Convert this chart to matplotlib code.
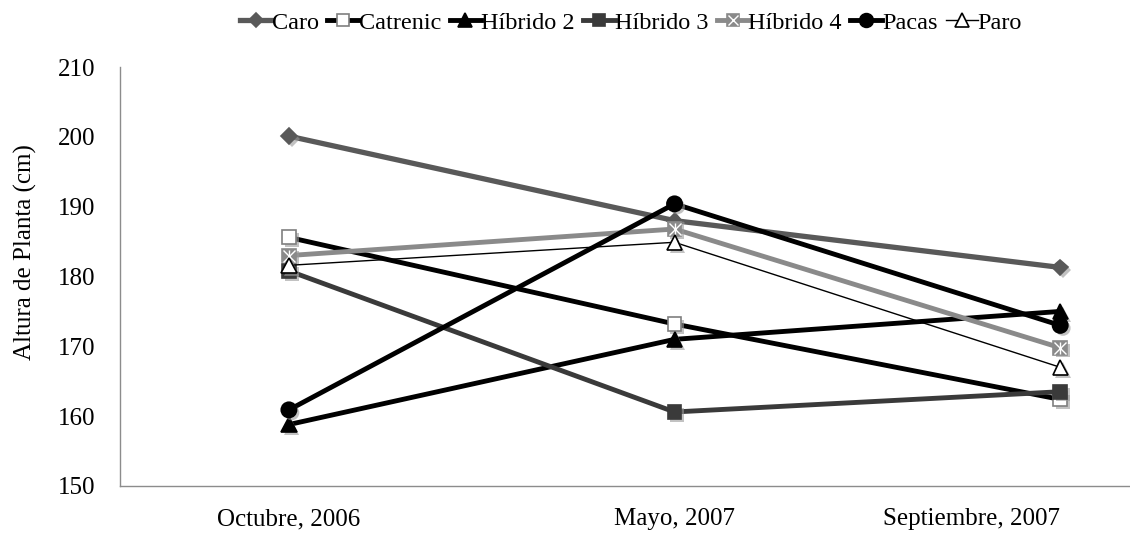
import matplotlib
matplotlib.use("Agg")
import matplotlib.pyplot as plt
import matplotlib.patheffects as pe

plt.rcParams['font.family'] = ['Liberation Serif', 'DejaVu Serif']

categories = ["Octubre, 2006", "Mayo, 2007", "Septiembre, 2007"]
series_names = ["Caro", "Catrenic", "Híbrido 2", "Híbrido 3", "Híbrido 4", "Pacas", "Paro"]
caro = [200.1, 188.0, 181.3]
catrenic = [185.6, 173.2, 162.4]
hibrido2 = [158.8, 171.0, 175.0]
hibrido3 = [180.8, 160.6, 163.5]
hibrido4 = [183.0, 186.8, 169.8]
pacas = [160.9, 190.4, 173.0]
paro = [181.6, 184.9, 167.0]
values = [caro, catrenic, hibrido2, hibrido3, hibrido4, pacas, paro]
yticks = [150, 160, 170, 180, 190, 200, 210]

styles = {
    "Caro": dict(color="#595959", lw=3.8, marker="D", ms=8, mfc="#595959", mec="#595959"),
    "Catrenic": dict(color="black", lw=3.5, marker="s", ms=10, mfc="white", mec="#7f7f7f"),
    "Híbrido 2": dict(color="black", lw=3.5, marker="^", ms=11, mfc="black", mec="black"),
    "Híbrido 3": dict(color="#3a3a3a", lw=3.5, marker="s", ms=10, mfc="#3a3a3a", mec="#3a3a3a"),
    "Híbrido 4": dict(color="#8a8a8a", lw=3.5, marker="s", ms=10, mfc="#8a8a8a", mec="#8a8a8a"),
    "Pacas": dict(color="black", lw=3.5, marker="o", ms=11, mfc="black", mec="black"),
    "Paro": dict(color="black", lw=1.0, marker="^", ms=11, mfc="white", mec="black"),
}

FS = 18

fig = plt.figure(figsize=(11.3, 5.4), dpi=100)
ax = fig.add_axes([120/1130, 54/540, 1010/1130, 419/540])
x = list(range(len(categories)))
shadow = [pe.SimplePatchShadow(offset=(2, -2), shadow_rgbFace="#9a9a9a", alpha=0.6), pe.Normal()]

handles = []
for name, vals in zip(series_names, values):
    st = styles[name]
    ax.plot(x, vals, color=st["color"], lw=st["lw"], solid_capstyle="butt")
    ax.plot(x, vals, ls="none", marker=st["marker"], ms=st["ms"], mfc=st["mfc"],
            mec=st["mec"], mew=1.2, path_effects=shadow)
    leg_line, = ax.plot([], [], color=st["color"], lw=st["lw"], marker=st["marker"],
                        ms=st["ms"] * 0.9, mfc=st["mfc"], mec=st["mec"], mew=1.2)
    if name == "Híbrido 4":
        ax.plot(x, vals, ls="none", marker="x", ms=st["ms"] * 0.85, mec="white", mew=1.0)
        ax.plot(x, vals, ls="none", marker="|", ms=st["ms"] * 0.85, mec="white", mew=1.0)
        leg_x, = ax.plot([], [], ls="none", marker="x", ms=st["ms"] * 0.75, mec="white", mew=1.0)
        handles.append((leg_line, leg_x))
    else:
        handles.append(leg_line)

ax.set_xlim(-0.438, 2.181)
ax.set_ylim(150, 210)
ax.set_yticks(yticks)
ax.set_xticks(x)
ax.set_xticklabels(categories)
ax.get_xticklabels()[-1].set_horizontalalignment("right")
ax.tick_params(axis="both", length=0, labelsize=FS)
ax.tick_params(axis="x", pad=16)
ax.tick_params(axis="y", pad=18)
for s in ["top", "right"]:
    ax.spines[s].set_visible(False)
for s in ["left", "bottom"]:
    ax.spines[s].set_color("#8c8c8c")
    ax.spines[s].set_linewidth(1.0)
fig.text(25/1130, 1 - 252/540, "Altura de Planta (cm)", rotation=90, fontsize=FS,
         ha="center", va="center")

fig.legend(handles, series_names, loc="center", bbox_to_anchor=(631/1130, 1 - 23/540),
           ncol=7, frameon=False, fontsize=17.5, handlelength=1.3, handletextpad=0.0,
           columnspacing=0.35, borderpad=0.1)

fig.savefig("out.png", dpi=100)
